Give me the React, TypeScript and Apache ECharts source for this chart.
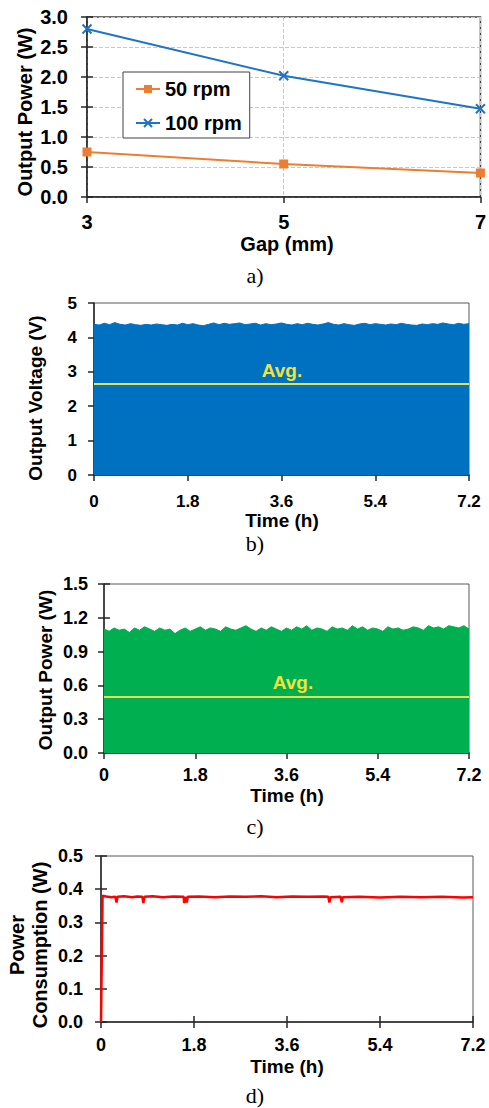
import React, { useEffect, useRef } from "react";
import * as echarts from "echarts";

// ---------- data ----------
const GAP_MM = [3, 5, 7];
const POWER_50RPM = [0.75, 0.55, 0.4];
const POWER_100RPM = [2.8, 2.02, 1.47];

const TIME_H = [
  0, 0.1, 0.2, 0.3, 0.4, 0.5, 0.6, 0.7, 0.8, 0.9,
  1, 1.1, 1.2, 1.3, 1.4, 1.5, 1.6, 1.7, 1.8, 1.9,
  2, 2.1, 2.2, 2.3, 2.4, 2.5, 2.6, 2.7, 2.8, 2.9,
  3, 3.1, 3.2, 3.3, 3.4, 3.5, 3.6, 3.7, 3.8, 3.9,
  4, 4.1, 4.2, 4.3, 4.4, 4.5, 4.6, 4.7, 4.8, 4.9,
  5, 5.1, 5.2, 5.3, 5.4, 5.5, 5.6, 5.7, 5.8, 5.9,
  6, 6.1, 6.2, 6.3, 6.4, 6.5, 6.6, 6.7, 6.8, 6.9,
  7, 7.1, 7.2,
];

// upper envelope of the output voltage signal (V)
const VOLTAGE_ENVELOPE = [
  4.38, 4.36, 4.41, 4.37, 4.43, 4.38, 4.36, 4.4, 4.37, 4.35,
  4.38, 4.36, 4.39, 4.37, 4.35, 4.38, 4.36, 4.41, 4.37, 4.4,
  4.36, 4.34, 4.38, 4.42, 4.37, 4.41, 4.38, 4.4, 4.42, 4.37,
  4.39, 4.41, 4.36, 4.4, 4.37, 4.39, 4.42, 4.38, 4.36, 4.4,
  4.37, 4.41, 4.38, 4.36, 4.39, 4.43, 4.38, 4.36, 4.4, 4.37,
  4.35, 4.39, 4.41, 4.37, 4.4, 4.38, 4.36, 4.39, 4.37, 4.41,
  4.38, 4.36, 4.35, 4.39, 4.37, 4.4, 4.38, 4.42, 4.39, 4.37,
  4.41, 4.38, 4.4,
];
const AVG_VOLTAGE = 2.65;

// upper envelope of the output power signal (W)
const POWER_ENVELOPE = [
  1.1, 1.08, 1.11, 1.09, 1.1, 1.07, 1.11, 1.09, 1.12, 1.1,
  1.08, 1.11, 1.09, 1.1, 1.06, 1.09, 1.11, 1.08, 1.1, 1.12,
  1.09, 1.11, 1.1, 1.08, 1.12, 1.1, 1.09, 1.11, 1.13, 1.1,
  1.08, 1.11, 1.09, 1.12, 1.1, 1.08, 1.11, 1.09, 1.12, 1.1,
  1.13, 1.09, 1.11, 1.1, 1.08, 1.12, 1.1, 1.11, 1.09, 1.13,
  1.1, 1.12, 1.09, 1.11, 1.1, 1.08, 1.12, 1.1, 1.11, 1.09,
  1.1, 1.12, 1.11, 1.09, 1.13, 1.11, 1.12, 1.1, 1.13, 1.12,
  1.11, 1.13, 1.1,
];
const AVG_POWER = 0.5;

const CONSUMPTION_TIME = [
  0, 0.03, 0.1, 0.2, 0.28, 0.3, 0.32, 0.45, 0.6, 0.7, 0.8, 0.82, 0.84, 1.0,
  1.2, 1.4, 1.6, 1.61, 1.63, 1.66, 1.68, 1.9, 2.2, 2.5, 2.8, 3.1, 3.4, 3.7,
  4.0, 4.3, 4.4, 4.42, 4.44, 4.64, 4.66, 4.68, 5.0, 5.4, 5.8, 6.2, 6.6, 7.0,
  7.2,
];
const CONSUMPTION_W = [
  0, 0.38, 0.378, 0.376, 0.377, 0.36, 0.377, 0.379, 0.376, 0.378, 0.377,
  0.358, 0.377, 0.379, 0.376, 0.378, 0.377, 0.358, 0.377, 0.36, 0.377, 0.378,
  0.376, 0.378, 0.377, 0.379, 0.376, 0.378, 0.377, 0.378, 0.377, 0.36, 0.376,
  0.377, 0.361, 0.376, 0.377, 0.375, 0.377, 0.376, 0.377, 0.375, 0.376,
];

// ---------- styles ----------
const FONT = 'Arial, "Liberation Sans", sans-serif';
const SERIF = '"Times New Roman", "Liberation Serif", serif';
const AX = "#262626";
const FRAME = "#595959";

const timeFmt = (v: number) => (v === 0 ? "0" : v.toFixed(1));
const oneDec = (v: number) => v.toFixed(1);

function xMain(grid: number, min: number, max: number, interval: number, fs: number, margin: number, fmt: any, extra: any = {}) {
  return {
    type: "value",
    gridIndex: grid,
    position: "bottom",
    min,
    max,
    interval,
    axisLine: { show: true, onZero: false, lineStyle: { color: AX, width: 1.5 } },
    axisTick: { show: true, inside: false, length: 6, lineStyle: { color: AX, width: 1.5 } },
    axisLabel: { show: true, margin, color: "#000", fontSize: fs, fontWeight: "bold", fontFamily: FONT, formatter: fmt },
    splitLine: { show: false },
    ...extra,
  };
}
function yMain(grid: number, min: number, max: number, interval: number, fs: number, margin: number, fmt: any, extra: any = {}) {
  return {
    type: "value",
    gridIndex: grid,
    position: "left",
    min,
    max,
    interval,
    axisLine: { show: true, onZero: false, lineStyle: { color: AX, width: 1.5 } },
    axisTick: { show: true, inside: false, length: 6, lineStyle: { color: AX, width: 1.5 } },
    axisLabel: { show: true, margin, color: "#000", fontSize: fs, fontWeight: "bold", fontFamily: FONT, formatter: fmt },
    splitLine: { show: false },
    ...extra,
  };
}
function innerTicks(kind: "x" | "y", grid: number, min: number, max: number, interval: number) {
  return {
    type: "value",
    gridIndex: grid,
    position: kind === "x" ? "bottom" : "left",
    min,
    max,
    interval,
    axisLine: { show: false, onZero: false },
    axisTick: { show: true, inside: true, length: 6, lineStyle: { color: AX, width: 1.5 } },
    axisLabel: { show: false },
    splitLine: { show: false },
  };
}

function txt(text: string, x: number, y: number, size: number, opts: any = {}) {
  return {
    type: "text",
    x,
    y,
    rotation: opts.rotate ? Math.PI / 2 : 0,
    z: 50,
    style: {
      text,
      fill: opts.color || "#000",
      font: `${opts.serif ? "normal" : "bold"} ${size}px ${opts.serif ? SERIF : FONT}`,
      align: "center",
      verticalAlign: "middle",
    },
  };
}

export default function App() {
  const ref = useRef<HTMLDivElement>(null);

  useEffect(() => {
    if (!ref.current) return;
    const chart = echarts.init(ref.current, undefined, { renderer: "svg" });

    const dashed = { show: true, lineStyle: { color: "#C8C8C8", type: "dashed", width: 1 } };

    const option: any = {
      animation: false,
      backgroundColor: "#fff",
      textStyle: { fontFamily: FONT },
      grid: [
        { left: 87, top: 17, width: 398, height: 180, show: true, borderColor: "#404040", borderWidth: 1.5, backgroundColor: "transparent" },
        { left: 94, top: 303, width: 375, height: 172, show: true, borderColor: FRAME, borderWidth: 1, backgroundColor: "transparent" },
        { left: 104, top: 584, width: 365, height: 169, show: true, borderColor: FRAME, borderWidth: 1, backgroundColor: "transparent" },
        { left: 101, top: 856, width: 372, height: 166, show: true, borderColor: FRAME, borderWidth: 1, backgroundColor: "transparent" },
      ],
      xAxis: [
        xMain(0, 3, 7, 2, 20, 15, (v: number) => String(v), { splitLine: dashed }),
        xMain(1, 0, 7.2, 1.8, 17, 18, timeFmt),
        xMain(2, 0, 7.2, 1.8, 18, 13, timeFmt),
        xMain(3, 0, 7.2, 1.8, 18, 14, timeFmt),
        innerTicks("x", 3, 0, 7.2, 1.8),
      ],
      yAxis: [
        yMain(0, 0, 3, 0.5, 20, 19, oneDec, { splitLine: dashed }),
        innerTicks("y", 0, 0, 3, 0.5),
        yMain(1, 0, 5, 1, 17, 17, (v: number) => String(v)),
        yMain(2, 0, 1.5, 0.3, 18, 16, oneDec),
        innerTicks("y", 2, 0, 1.5, 0.3),
        yMain(3, 0, 0.5, 0.1, 18, 18, oneDec),
        innerTicks("y", 3, 0, 0.5, 0.1),
      ],
      legend: {
        left: 123,
        top: 72,
        orient: "vertical",
        backgroundColor: "#fff",
        borderColor: "#404040",
        borderWidth: 1,
        borderRadius: 0,
        padding: [5, 8, 3, 12],
        itemGap: 10,
        itemWidth: 24,
        itemHeight: 10,
        textStyle: { fontSize: 20, fontWeight: "bold", fontFamily: FONT, color: "#000", lineHeight: 24 },
        data: ["50 rpm", "100 rpm"],
      },
      series: [
        {
          name: "50 rpm",
          type: "line",
          xAxisIndex: 0,
          yAxisIndex: 0,
          data: GAP_MM.map((g, i) => [g, POWER_50RPM[i]]),
          symbol: "rect",
          symbolSize: 9,
          lineStyle: { color: "#ED7D31", width: 2 },
          itemStyle: { color: "#ED7D31" },
          z: 5,
        },
        {
          name: "100 rpm",
          type: "line",
          xAxisIndex: 0,
          yAxisIndex: 0,
          data: GAP_MM.map((g, i) => [g, POWER_100RPM[i]]),
          symbol: "path://M0,0L10,10M10,0L0,10",
          symbolSize: 9,
          lineStyle: { color: "#1F74C4", width: 2 },
          itemStyle: { color: "#1F74C4", borderColor: "#1F74C4", borderWidth: 2 },
          z: 5,
        },
        {
          name: "Output Voltage",
          type: "line",
          xAxisIndex: 1,
          yAxisIndex: 2,
          data: TIME_H.map((t, i) => [t, VOLTAGE_ENVELOPE[i]]),
          symbol: "none",
          lineStyle: { color: "#0070C0", width: 1 },
          areaStyle: { color: "#0070C0", opacity: 1 },
          markLine: {
            silent: true,
            symbol: "none",
            label: { show: false },
            lineStyle: { color: "#E6E04A", width: 2, type: "solid" },
            data: [{ yAxis: AVG_VOLTAGE }],
          },
        },
        {
          name: "Output Power",
          type: "line",
          xAxisIndex: 2,
          yAxisIndex: 3,
          data: TIME_H.map((t, i) => [t, POWER_ENVELOPE[i]]),
          symbol: "none",
          lineStyle: { color: "#00B050", width: 1 },
          areaStyle: { color: "#00B050", opacity: 1 },
          markLine: {
            silent: true,
            symbol: "none",
            label: { show: false },
            lineStyle: { color: "#E6E04A", width: 2, type: "solid" },
            data: [{ yAxis: AVG_POWER }],
          },
        },
        {
          name: "Power Consumption",
          type: "line",
          xAxisIndex: 3,
          yAxisIndex: 5,
          data: CONSUMPTION_TIME.map((t, i) => [t, CONSUMPTION_W[i]]),
          symbol: "none",
          lineStyle: { color: "#FF0000", width: 2.5 },
        },
      ],
      graphic: [
        txt("Output Power (W)", 25, 112, 20, { rotate: true }),
        txt("Gap (mm)", 287, 244, 20),
        txt("a)", 255, 275, 22, { serif: true }),

        txt("Output Voltage (V)", 35, 398, 19, { rotate: true }),
        txt("Avg.", 282, 370, 19, { color: "#F2E33C" }),
        txt("Time (h)", 282, 520, 19),
        txt("b)", 255, 543, 22, { serif: true }),

        txt("Output Power (W)", 45, 670, 19, { rotate: true }),
        txt("Avg.", 293, 682, 19, { color: "#F2E33C" }),
        txt("Time (h)", 287, 795, 19),
        txt("c)", 255, 826, 22, { serif: true }),

        txt("Power", 17, 945, 20, { rotate: true }),
        txt("Consumption (W)", 40, 945, 20, { rotate: true }),
        txt("Time (h)", 287, 1066, 19),
        txt("d)", 255, 1095, 22, { serif: true }),
      ],
    };

    chart.setOption(option);
    return () => chart.dispose();
  }, []);

  return (
    <div
      ref={ref}
      style={{ position: "absolute", left: 0, top: 0, width: 489, height: 1108 }}
    />
  );
}
